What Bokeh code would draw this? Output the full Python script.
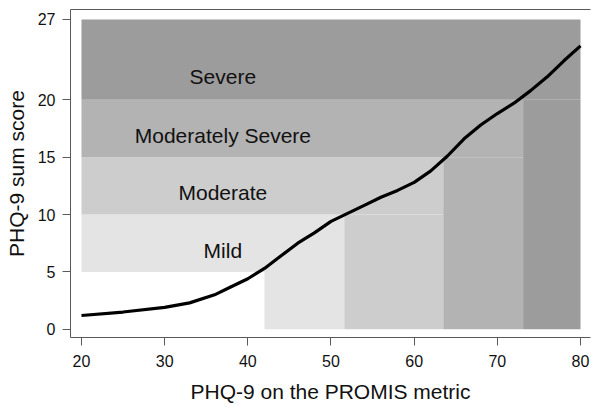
from bokeh.plotting import figure
from bokeh.models import Range1d, FixedTicker, LinearAxis, ColumnDataSource
from bokeh.core.properties import value
from bokeh.embed import file_html
from bokeh.resources import INLINE

# --- data ---
categories = ["Mild", "Moderate", "Moderately Severe", "Severe"]
cat_low = [5, 10, 15, 20]          # PHQ-9 sum score lower bound
cat_high = [10, 15, 20, 27]        # upper bound
col_start = [42.0, 51.6, 63.5, 73.1]   # PROMIS metric threshold
col_end = [51.6, 63.5, 73.1, 80.0]
cat_colors = ["#e4e4e4", "#cdcdcd", "#b3b3b3", "#9c9c9c"]
label_y = [6.9, 11.9, 16.9, 22.0]
label_x = 37.0
x_min, x_max = 20, 80

promis = [20, 25, 30, 33, 36, 38, 40, 42, 44, 46, 48, 50, 52, 54, 56, 58,
          60, 62, 64, 66, 68, 70, 72, 74, 76, 78, 80]
phq_sum = [1.2, 1.5, 1.9, 2.3, 3.0, 3.7, 4.4, 5.3, 6.4, 7.5, 8.4, 9.4, 10.1,
           10.8, 11.5, 12.1, 12.8, 13.8, 15.1, 16.6, 17.8, 18.8, 19.7, 20.8,
           22.0, 23.4, 24.7]

x_ticks = [20, 30, 40, 50, 60, 70, 80]
y_ticks = [0, 5, 10, 15, 20, 27]

FONT = "Liberation Sans"

p = figure(width=600, height=408, output_backend="svg", toolbar_location=None,
           x_range=Range1d(18.68, 81.2), y_range=Range1d(-0.72, 27.87),
           min_border_left=70, min_border_right=10, min_border_top=9,
           min_border_bottom=71)
p.outline_line_color = None
p.xgrid.visible = False
p.ygrid.visible = False
p.background_fill_color = "white"
p.border_fill_color = "white"

# bands (horizontal part) and columns (vertical part)
band = ColumnDataSource(dict(left=[x_min] * 4, right=col_end, bottom=cat_low,
                             top=cat_high, color=cat_colors))
col = ColumnDataSource(dict(left=col_start, right=col_end, bottom=[0] * 4,
                            top=cat_low, color=cat_colors))
p.quad(left="left", right="right", bottom="bottom", top="top", source=band,
       fill_color="color", line_color=None)
p.quad(left="left", right="right", bottom="bottom", top="top", source=col,
       fill_color="color", line_color=None)

p.text(x=[label_x] * 4, y=label_y, text=categories, text_align="center",
       text_baseline="middle", text_font=value(FONT), text_font_size="21px",
       text_color="#111111")

p.line(promis, phq_sum, line_color="black", line_width=3.2)

axis_color = "#5a5a5a"
for ax in (p.xaxis[0], p.yaxis[0]):
    ax.axis_line_color = axis_color
    ax.major_tick_line_color = axis_color
    ax.minor_tick_line_color = None
    ax.major_tick_in = 0
    ax.major_tick_out = 8
    ax.major_label_text_font = FONT
    ax.major_label_text_font_size = "16px"
    ax.major_label_text_color = "#111111"
    ax.axis_label_text_font = FONT
    ax.axis_label_text_font_size = "21px"
    ax.axis_label_text_font_style = "normal"
    ax.axis_label_text_color = "#111111"

p.xaxis.ticker = FixedTicker(ticks=x_ticks)
p.yaxis.ticker = FixedTicker(ticks=y_ticks)
p.xaxis.axis_label = "PHQ-9 on the PROMIS metric"
p.yaxis.axis_label = "PHQ-9 sum score"
p.xaxis.major_label_standoff = 9
p.yaxis.major_label_standoff = 7
p.xaxis.axis_label_standoff = 10
p.yaxis.axis_label_standoff = 7

top = LinearAxis(ticker=FixedTicker(ticks=x_ticks), axis_line_color=axis_color,
                 major_tick_line_color=None, minor_tick_line_color=None,
                 major_tick_out=0, major_tick_in=0,
                 major_label_standoff=0, major_label_text_font_size="1px",
                 major_label_text_alpha=0)
p.add_layout(top, "above")

open("out.html", "w").write(file_html(p, INLINE))
